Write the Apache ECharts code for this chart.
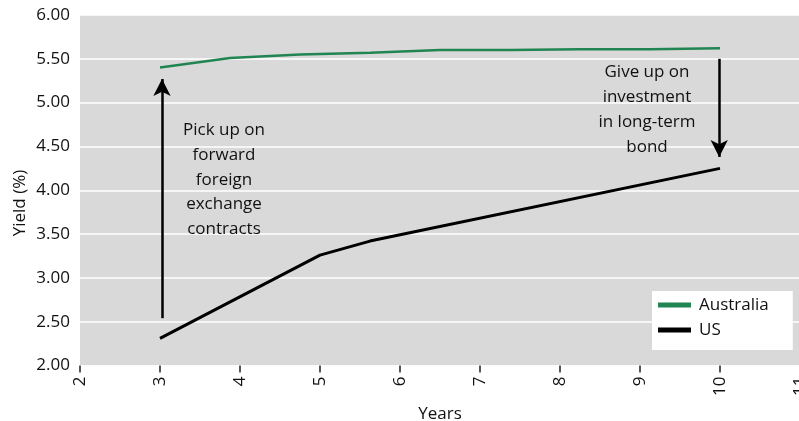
<!DOCTYPE html>
<html>
<head>
<meta charset="utf-8">
<script src="https://cdn.jsdelivr.net/npm/echarts@6/dist/echarts.min.js"></script>
<style>html,body{margin:0;padding:0;background:#fff;}#c{width:799px;height:421px;}</style>
</head>
<body>
<div id="c"></div>
<script>
const ausYears = [3, 3.875, 4.75, 5.625, 6.5, 7.375, 8.25, 9.125, 10];
const ausYield = [5.40, 5.51, 5.55, 5.57, 5.60, 5.60, 5.61, 5.61, 5.62];
const usYears = [3, 5, 5.625, 10];
const usYield = [2.31, 3.26, 3.42, 4.25];
const yTicks = ['2.00','2.50','3.00','3.50','4.00','4.50','5.00','5.50','6.00'];
const upArrow = [[3.025, 2.54], [3.025, 5.27]];
const downArrow = [[9.99, 5.50], [9.99, 4.38]];
const noteLeft = ['Pick up on', 'forward', 'foreign', 'exchange', 'contracts'];
const noteRight = ['Give up on', 'investment', 'in long-term', 'bond'];

const FONT = 'Open Sans';
const chart = echarts.init(document.getElementById('c'));
chart.setOption({
  animation: false,
  textStyle: {fontFamily: FONT},
  grid: {left: 80, top: 15, width: 720, height: 350.5, show: true, backgroundColor: '#d9d9d9', borderWidth: 0,
         containLabel: false, outerBoundsMode: 'none'},
  xAxis: {
    type: 'value', min: 2, max: 11, interval: 1,
    name: 'Years', nameLocation: 'middle', nameGap: 40,
    nameTextStyle: {fontSize: 17, color: '#111', fontFamily: FONT},
    axisLine: {show: false},
    axisTick: {show: true, length: 7, lineStyle: {color: '#222', width: 1.5}},
    axisLabel: {rotate: 90, margin: 11, fontSize: 17, color: '#111', fontFamily: FONT},
    splitLine: {show: false}
  },
  yAxis: {
    type: 'value', min: 2, max: 6, interval: 0.5,
    axisLine: {show: false}, axisTick: {show: false},
    axisLabel: {margin: 10, fontSize: 17, color: '#111', fontFamily: FONT,
      formatter: v => yTicks[Math.round((v - 2) / 0.5)]},
    splitLine: {show: true, lineStyle: {color: '#ffffff', width: 1.5}}
  },
  legend: {
    orient: 'vertical', left: 652, top: 291,
    backgroundColor: '#ffffff', borderWidth: 0,
    padding: [4, 24, 10, 6], itemGap: 5,
    itemWidth: 33, itemHeight: 5, icon: 'rect',
    textStyle: {fontSize: 17, lineHeight: 20, color: '#111', fontFamily: FONT, padding: [0, 0, 0, 3]},
    data: ['Australia', 'US']
  },
  series: [
    {
      name: 'Australia', type: 'line', symbol: 'none',
      lineStyle: {color: '#218552', width: 2.5}, itemStyle: {color: '#218552'},
      data: ausYears.map((x, i) => [x, ausYield[i]]),
      markLine: {
        silent: true, symbol: ['none', 'arrow'], symbolSize: [13, 17],
        label: {show: false},
        lineStyle: {color: '#000', width: 2.5, type: 'solid'},
        data: [
          [{coord: upArrow[0]}, {coord: upArrow[1]}],
          [{coord: downArrow[0]}, {coord: downArrow[1]}]
        ]
      }
    },
    {
      name: 'US', type: 'line', symbol: 'none',
      lineStyle: {color: '#000', width: 3}, itemStyle: {color: '#000'},
      data: usYears.map((x, i) => [x, usYield[i]])
    }
  ],
  graphic: [
    {type: 'text', z: 100, x: 224, y: 118, style: {text: noteLeft.join('\n'), font: '17px "' + FONT + '"', fill: '#111', align: 'center', lineHeight: 24.75}},
    {type: 'text', z: 100, x: 647, y: 60, style: {text: noteRight.join('\n'), font: '17px "' + FONT + '"', fill: '#111', align: 'center', lineHeight: 25}},
    {type: 'text', z: 100, x: 20, y: 203, rotation: Math.PI / 2, style: {text: 'Yield (%)', font: '17px "' + FONT + '"', fill: '#111', align: 'center', verticalAlign: 'middle'}}
  ]
});
</script>
</body>
</html>
